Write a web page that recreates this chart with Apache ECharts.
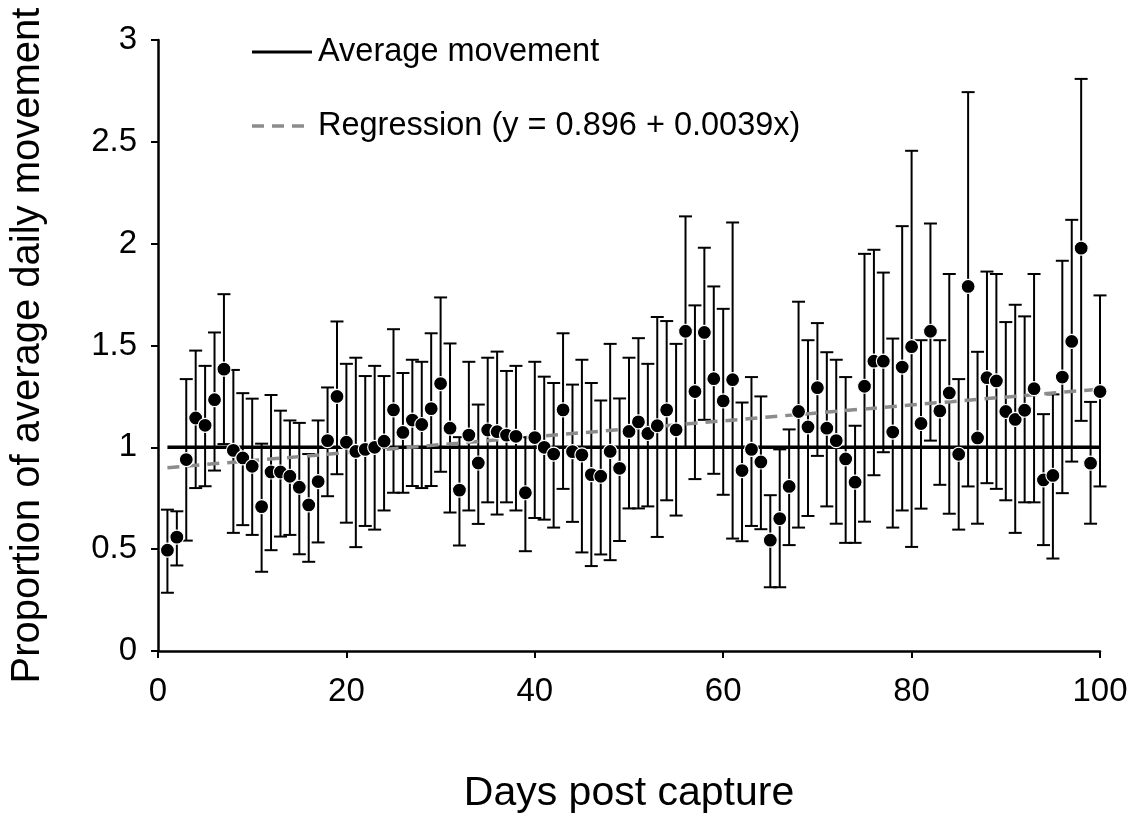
<!DOCTYPE html>
<html>
<head>
<meta charset="utf-8">
<script src="https://cdn.jsdelivr.net/npm/echarts@6/dist/echarts.min.js"></script>
<style>
  html, body { margin: 0; padding: 0; background: #fff; }
  #chart { width: 1138px; height: 819px; }
</style>
</head>
<body>
<div id="chart"></div>
<script>
// Days after capture (1..100)
const days = [
  1,2,3,4,5,6,7,8,9,10,11,12,13,14,15,16,17,18,19,20,
  21,22,23,24,25,26,27,28,29,30,31,32,33,34,35,36,37,38,39,40,
  41,42,43,44,45,46,47,48,49,50,51,52,53,54,55,56,57,58,59,60,
  61,62,63,64,65,66,67,68,69,70,71,72,73,74,75,76,77,78,79,80,
  81,82,83,84,85,86,87,88,89,90,91,92,93,94,95,96,97,98,99,100
];

// Mean proportion of average daily movement per day
const meanMove = [
  0.495,0.559,0.94,1.144,1.108,1.234,1.384,0.985,0.948,0.907,
  0.709,0.879,0.879,0.858,0.804,0.717,0.832,1.033,1.25,1.025,
  0.98,0.99,1.0,1.03,1.184,1.073,1.134,1.112,1.19,1.313,
  1.094,0.79,1.06,0.923,1.085,1.077,1.06,1.054,0.777,1.048,
  1.0,0.967,1.184,0.979,0.963,0.866,0.858,0.98,0.897,1.078,
  1.125,1.068,1.106,1.184,1.086,1.57,1.274,1.564,1.337,1.228,
  1.332,0.886,0.99,0.928,0.544,0.65,0.808,1.176,1.10,1.293,
  1.094,1.033,0.943,0.829,1.30,1.423,1.423,1.075,1.394,1.494,
  1.117,1.57,1.179,1.267,0.966,1.79,1.046,1.342,1.326,1.176,
  1.137,1.182,1.288,0.84,0.862,1.345,1.52,1.978,0.922,1.274
];

// Lower end of each error bar
const lowerBar = [
  0.286,0.42,0.542,0.80,0.809,0.886,1.016,0.58,0.618,0.57,
  0.389,0.495,0.562,0.57,0.475,0.438,0.533,0.76,0.868,0.63,
  0.51,0.614,0.596,0.69,0.777,0.777,0.81,0.80,0.81,0.88,
  0.68,0.518,0.69,0.624,0.73,0.67,0.73,0.69,0.49,0.653,
  0.645,0.606,0.796,0.634,0.484,0.417,0.474,0.446,0.54,0.70,
  0.70,0.71,0.56,0.74,0.665,1.0,0.844,1.135,0.87,0.767,
  0.552,0.539,0.614,0.598,0.313,0.313,0.52,0.606,0.663,0.958,
  0.71,0.625,0.531,0.531,0.635,0.863,0.976,0.606,0.69,0.511,
  0.699,1.033,0.816,0.674,0.596,0.808,0.625,0.824,0.796,0.74,
  0.58,0.73,0.73,0.52,0.454,0.775,0.93,1.13,0.625,0.808
];

// Upper end of each error bar
const upperBar = [
  0.694,0.686,1.335,1.475,1.40,1.564,1.752,1.38,1.266,1.239,
  1.018,1.257,1.18,1.132,1.12,0.967,1.132,1.294,1.618,1.41,
  1.44,1.35,1.40,1.35,1.58,1.365,1.43,1.42,1.56,1.736,
  1.51,1.05,1.42,1.21,1.44,1.47,1.375,1.40,1.05,1.42,
  1.347,1.316,1.56,1.308,1.43,1.316,1.23,1.508,1.24,1.44,
  1.536,1.41,1.64,1.62,1.508,2.134,1.697,1.98,1.79,1.68,
  2.104,1.22,1.345,1.25,0.765,0.99,1.088,1.715,1.526,1.61,
  1.467,1.43,1.345,1.106,1.95,1.97,1.858,1.534,2.086,2.456,
  1.526,2.099,1.526,1.851,1.335,2.744,1.469,1.863,1.851,1.615,
  1.70,1.643,1.851,1.163,1.26,1.916,2.117,2.809,1.223,1.746
];

// Reference level and fitted regression y = a + b x
const averageLevel = 1;
const regIntercept = 0.896;
const regSlope = 0.0039;

const xTicks = [0, 20, 40, 60, 80, 100];
const yTicks = [0, 0.5, 1, 1.5, 2, 2.5, 3];

const legendLabels = ['Average movement', 'Regression (y = 0.896 + 0.0039x)'];
const xTitle = 'Days post capture';
const yTitle = 'Proportion of average daily movement';

const FONT = 'Liberation Sans, Arial, sans-serif';

const chart = echarts.init(document.getElementById('chart'), null, { renderer: 'canvas' });

const barData = days.map((d, i) => [d, lowerBar[i], upperBar[i]]);
const pointData = days.map((d, i) => [d, meanMove[i]]);
const firstDay = days[0];
const lastDay = days[days.length - 1];

// Vertical whisker with flat caps at both ends
function renderErrorBar(params, api) {
  const x = api.value(0);
  const lo = api.coord([x, api.value(1)]);
  const hi = api.coord([x, api.value(2)]);
  const cap = 6.5;
  const style = { stroke: '#000', lineWidth: 2 };
  return {
    type: 'group',
    children: [
      { type: 'line', shape: { x1: hi[0], y1: hi[1], x2: lo[0], y2: lo[1] }, style: style },
      { type: 'line', shape: { x1: hi[0] - cap, y1: hi[1], x2: hi[0] + cap, y2: hi[1] }, style: style },
      { type: 'line', shape: { x1: lo[0] - cap, y1: lo[1], x2: lo[0] + cap, y2: lo[1] }, style: style }
    ]
  };
}

const option = {
  backgroundColor: '#fff',
  animation: false,
  grid: { left: 158, right: 38, top: 40, bottom: 165, containLabel: false },
  xAxis: {
    type: 'value',
    min: xTicks[0],
    max: xTicks[xTicks.length - 1],
    interval: 20,
    name: xTitle,
    nameLocation: 'middle',
    nameGap: 122,
    nameTextStyle: { fontFamily: FONT, fontSize: 41, color: '#000' },
    axisLine: { onZero: false, lineStyle: { color: '#000', width: 2.5 } },
    axisTick: { show: true, inside: false, length: 7, lineStyle: { color: '#000', width: 2 } },
    axisLabel: { fontFamily: FONT, fontSize: 33, color: '#000', margin: 24 },
    splitLine: { show: false }
  },
  yAxis: {
    type: 'value',
    min: yTicks[0],
    max: yTicks[yTicks.length - 1],
    interval: 0.5,
    name: yTitle,
    nameLocation: 'middle',
    nameGap: 110,
    nameRotate: 90,
    nameTextStyle: { fontFamily: FONT, fontSize: 40, color: '#000' },
    axisLine: { show: true, lineStyle: { color: '#000', width: 2.5 } },
    axisTick: { show: true, inside: false, length: 7, lineStyle: { color: '#000', width: 2 } },
    axisLabel: { fontFamily: FONT, fontSize: 33, color: '#000', margin: 21 },
    splitLine: { show: false }
  },
  graphic: [
    { type: 'line', shape: { x1: 252, y1: 52, x2: 312, y2: 52 }, style: { stroke: '#000', lineWidth: 3 } },
    { type: 'text', x: 318, y: 52, style: { text: legendLabels[0], font: '32.5px ' + FONT, fill: '#000', textVerticalAlign: 'middle', verticalAlign: 'middle' } },
    { type: 'line', shape: { x1: 252, y1: 126, x2: 312, y2: 126 }, style: { stroke: '#8c8c8c', lineWidth: 3.5, lineDash: [12, 8] } },
    { type: 'text', x: 318, y: 126, style: { text: legendLabels[1], font: '32.5px ' + FONT, fill: '#000', textVerticalAlign: 'middle', verticalAlign: 'middle' } }
  ],
  series: [
    {
      name: 'error',
      type: 'custom',
      renderItem: renderErrorBar,
      data: barData,
      encode: { x: 0, y: [1, 2] },
      z: 1,
      silent: true
    },
    {
      name: legendLabels[0],
      type: 'line',
      data: [[firstDay, averageLevel], [lastDay, averageLevel]],
      symbol: 'none',
      lineStyle: { color: '#000', width: 3.5 },
      z: 2,
      silent: true
    },
    {
      name: legendLabels[1],
      type: 'line',
      data: [[firstDay, regIntercept + regSlope * firstDay], [lastDay, regIntercept + regSlope * lastDay]],
      symbol: 'none',
      lineStyle: { color: '#8c8c8c', width: 3.5, type: [12, 8] },
      z: 3,
      silent: true
    },
    {
      name: 'mean',
      type: 'scatter',
      data: pointData,
      symbol: 'circle',
      symbolSize: 14,
      itemStyle: { color: '#000', borderColor: '#fff', borderWidth: 1.2, opacity: 1 },
      z: 4,
      silent: true
    }
  ]
};

chart.setOption(option);
</script>
</body>
</html>
